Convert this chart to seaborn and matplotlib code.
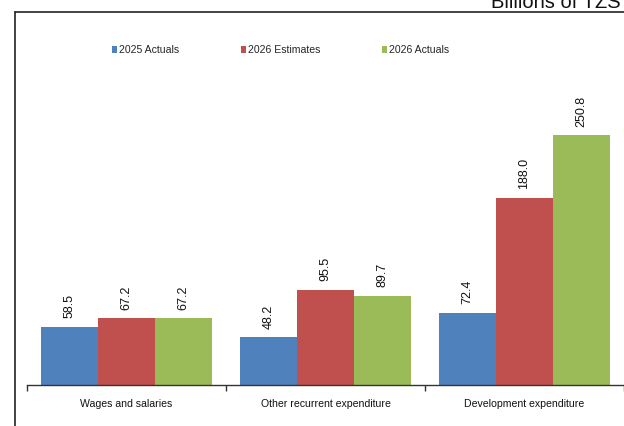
import matplotlib
matplotlib.use("Agg")
import matplotlib.pyplot as plt
from matplotlib.lines import Line2D
from matplotlib.patches import Patch
import seaborn as sns
import pandas as pd

categories = ["Wages and salaries", "Other recurrent expenditure", "Development expenditure"]
series = ["2025 Actuals", "2026 Estimates", "2026 Actuals"]
actuals_2025 = [58.5, 48.2, 72.4]
estimates_2026 = [67.2, 95.5, 188.0]
actuals_2026 = [67.2, 89.7, 250.8]
colors = ["#4F81BD", "#C0504D", "#9BBB59"]
unit_label = "Billions of TZS"

sns.set_theme(style="white")
plt.rcParams["font.family"] = ["Liberation Sans", "DejaVu Sans"]

rows = []
for name, vals in zip(series, [actuals_2025, estimates_2026, actuals_2026]):
    for cat, v in zip(categories, vals):
        rows.append({"category": cat, "series": name, "value": v})
df = pd.DataFrame(rows)

W, H = 624, 426
fig = plt.figure(figsize=(W / 100, H / 100), dpi=100)
ax = fig.add_axes([27 / W, (H - 385) / H, (624 - 27) / W, (385 - 12) / H])

sns.barplot(data=df, x="category", y="value", hue="series", order=categories,
            hue_order=series, palette=colors, saturation=1, width=0.855, gap=0,
            edgecolor="none", errorbar=None, ax=ax, legend=False)

ax.set_xlim(-0.5, 2.5)
ax.set_ylim(0, 374.2)
ax.set_xlabel("")
ax.set_ylabel("")
ax.set_yticks([])

# value labels above each bar
for container in ax.containers:
    ax.bar_label(container, fmt="%.1f", rotation=90, padding=6, fontsize=9, color="#111111")

for side in ["top", "right", "left"]:
    ax.spines[side].set_visible(False)
ax.spines["bottom"].set_color("#333333")
ax.spines["bottom"].set_linewidth(1.0)

ax.tick_params(axis="x", which="major", length=0, pad=10, labelsize=7.6, labelcolor="#111111")
ax.set_xticks([-0.5, 0.5, 1.5, 2.5], minor=True)
ax.tick_params(axis="x", which="minor", direction="out", length=4, width=1, color="#333333", bottom=True)

handles = [Patch(facecolor=c, edgecolor="none") for c in colors]
fig.legend(handles, series, loc="center", bbox_to_anchor=(280.5 / W, 1 - 50 / H),
           ncol=3, frameon=False, fontsize=7.6, handlelength=0.5, handleheight=0.6,
           handletextpad=0.2, columnspacing=5.8, borderpad=0)

# outer frame lines
fig.add_artist(Line2D([14.5 / W, 14.5 / W], [0, 1 - 12 / H], transform=fig.transFigure,
                      color="#222222", lw=1.2))
fig.add_artist(Line2D([14.5 / W, 1], [1 - 12 / H, 1 - 12 / H], transform=fig.transFigure,
                      color="#222222", lw=1.2))

fig.text(491 / W, 1 - 8 / H, unit_label, ha="left", va="baseline", fontsize=14.5, color="#111111")

fig.savefig("out.png", dpi=100)
